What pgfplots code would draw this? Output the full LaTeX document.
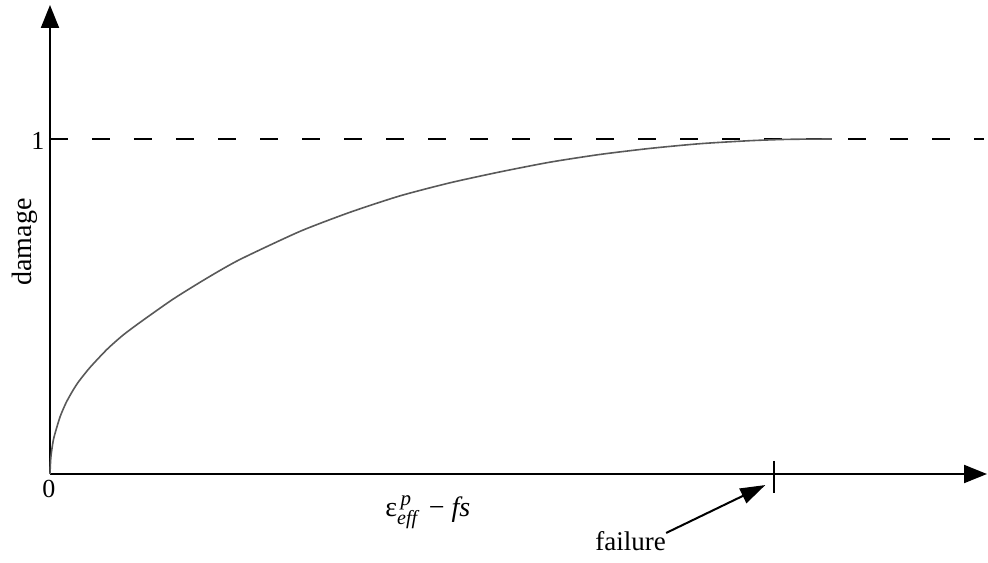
\documentclass[border=0pt]{standalone}
\usepackage{pgfplots}
\pgfplotsset{compat=1.18}
\usetikzlibrary{arrows.meta}
\usepackage{fontspec}
\setmainfont{Liberation Serif}
\begin{document}
\begin{tikzpicture}
\begin{axis}[
  scale only axis, width=468.5pt, height=234.5pt,
  xmin=0, xmax=1.2942, ymin=0, ymax=1.4,
  hide axis, clip=false,
]
% bounding box
\path (axis cs:-0.06906,-0.26269) rectangle (axis cs:1.29558,1.41493);
% axes
\draw[line width=1pt,-{Triangle[length=11.5pt,width=9pt]}] (axis cs:0,0) -- (axis cs:1.2942,0);
\draw[line width=1pt,-{Triangle[length=11.5pt,width=9pt]}] (axis cs:0,0) -- (axis cs:0,1.4);
% dashed asymptote
\addplot[black, line width=0.8pt, dash pattern=on 9.2pt off 11.8pt] coordinates {(0,1) (1.29,1)};
% damage curve
\addplot[black!65, line width=0.8pt, smooth, tension=0.4] coordinates {
(0,0) (0.0012,0.05) (0.005,0.105) (0.0138,0.170) (0.0225,0.214) (0.0318,0.250) (0.040,0.277) (0.0552,0.318)
(0.0787,0.372) (0.100,0.413) (0.124,0.452) (0.170,0.522) (0.217,0.585) (0.262,0.640)
(0.345,0.724) (0.414,0.781) (0.483,0.830) (0.552,0.869) (0.622,0.902)
(0.691,0.931) (0.760,0.954) (0.829,0.972) (0.898,0.986) (0.967,0.995) (1.02,0.999) (1.080,1.0)
};
% failure tick
\draw[line width=1pt] (axis cs:1.0,0.039) -- (axis cs:1.0,-0.057);
% failure arrow
\draw[line width=1pt,-{Triangle[length=12.5pt,width=8pt]}] (axis cs:0.851,-0.176) -- (axis cs:0.988,-0.033);
% labels
\node[anchor=base, font=\fontsize{13}{15}\selectfont] at (axis cs:-0.0014,-0.0687) {0};
\node[anchor=base, font=\fontsize{13}{15}\selectfont] at (axis cs:-0.0166,0.970) {1};
\node[rotate=90, font=\fontsize{14}{16}\selectfont] at (axis cs:-0.0345,0.6925) {damage};
\node[anchor=base, font=\fontsize{13.5}{16}\selectfont] at (axis cs:0.802,-0.2298) {failure};
\node[anchor=base west, inner sep=0pt, font=\fontsize{14}{16}\selectfont] at (axis cs:0.4627,-0.128)
  {ε\rlap{\raisebox{0.85ex}{\fontsize{10.5}{12}\selectfont\itshape\,p}}\raisebox{-0.6ex}{\fontsize{10}{12}\selectfont\itshape eff}\, − \textit{fs}};
\end{axis}
\end{tikzpicture}
\end{document}
